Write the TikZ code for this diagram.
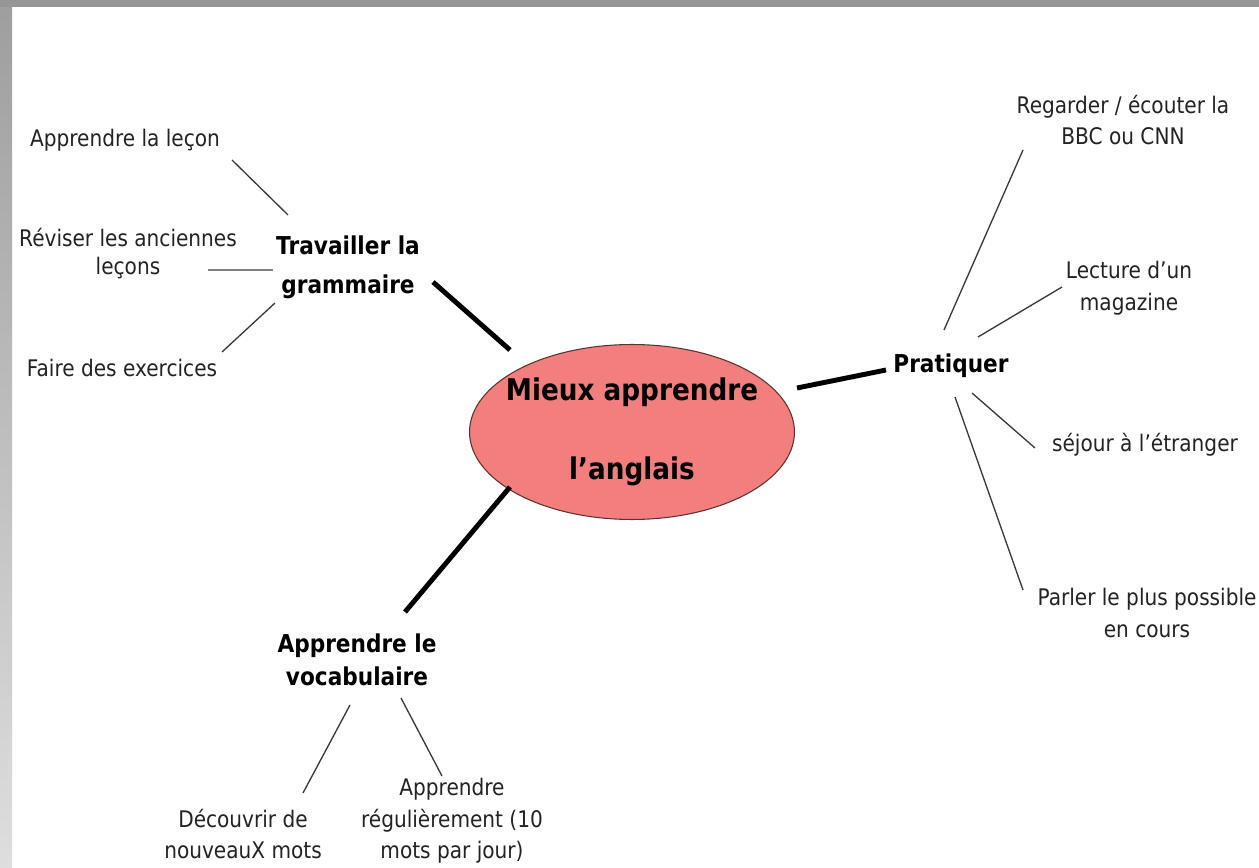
\documentclass[tikz,border=0pt]{standalone}
\usepackage{fontspec}
\setmainfont{DejaVu Sans}[FakeStretch=0.88]
\usetikzlibrary{shapes.geometric}
\definecolor{coral}{RGB}{243,126,126}
\definecolor{coralline}{RGB}{90,50,50}
\definecolor{leafgray}{RGB}{35,35,35}
\definecolor{bartop}{RGB}{158,158,158}
\definecolor{barbottom}{RGB}{222,222,222}
\def\twigfrom#1#2{([shift={#2}]#1.center)}

\begin{document}
\begin{tikzpicture}[x=0.02cm, y=-0.02cm,
	leaf/.style={align=center, inner sep=0pt, text=leafgray, font=\fontsize{13}{18}\selectfont},
	branch/.style={align=center, inner sep=0pt, font=\bfseries\fontsize{14}{22}\selectfont},
	twig/.style={line width=0.75pt, draw=leafgray!90},
	limb/.style={line width=2.8pt}]
	\useasboundingbox (0,0) rectangle (1259,868);
	\fill[white] (0,0) rectangle (1259,868);
	\shade[top color=bartop, bottom color=barbottom] (0,0) rectangle (12,868);
	\fill[bartop!95!black] (0,0) rectangle (1259,7);

	\node[ellipse, draw=coralline, fill=coral, line width=0.6pt, inner sep=0pt,
		minimum width=6.5cm, minimum height=3.5cm] (hub) at (632,432) {};
	\node[align=center, inner sep=0pt, font=\bfseries\fontsize{17}{20}\selectfont] (hubtext) at (hub) {Mieux apprendre\\[25pt]l’anglais};

	\node[branch] (gram) at (348,267) {Travailler la\\grammaire};
	\node[branch] (prat) at (951,366) {Pratiquer};
	\node[branch, font=\bfseries\fontsize{14}{19}\selectfont] (vocab) at (357,660) {Apprendre le\\vocabulaire};

	\node[leaf] (lecon) at (125,140) {Apprendre la leçon};
	\node[leaf, font=\fontsize{13}{16}\selectfont] (reviser) at (128,254) {Réviser les anciennes\\leçons};
	\node[leaf] (exos) at (122,368) {Faire des exercices};

	\node[leaf] (bbc) at (1123,120) {Regarder / écouter la\\BBC ou CNN};
	\node[leaf] (mag) at (1129,288) {Lecture d’un\\magazine};
	\node[leaf] (sejour) at (1145,445) {séjour à l’étranger};
	\node[leaf] (parler) at (1147,613) {Parler le plus possible\\en cours};

	\node[leaf] (decouvrir) at (243,834) {Découvrir de\\nouveauX mots};
	\node[leaf] (regul) at (452,821) {Apprendre\\régulièrement (10\\mots par jour)};

	\draw[limb] \twigfrom{gram}{(85,15)} -- \twigfrom{hub}{(-122,-82)};
	\draw[limb] \twigfrom{hub}{(165,-44)} -- \twigfrom{prat}{(-65,4)};
	\draw[limb] \twigfrom{hub}{(-122,55)} -- \twigfrom{vocab}{(48,-48)};

	\draw[twig] \twigfrom{lecon}{(107,20)} -- \twigfrom{gram}{(-60,-52)};
	\draw[twig, line width=1.7pt, draw=gray] \twigfrom{reviser}{(80,16)} -- \twigfrom{gram}{(-75,3)};
	\draw[twig] \twigfrom{exos}{(100,-16)} -- \twigfrom{gram}{(-73,36)};

	\draw[twig] \twigfrom{prat}{(-7,-36)} -- \twigfrom{bbc}{(-100,30)};
	\draw[twig] \twigfrom{prat}{(27,-29)} -- \twigfrom{mag}{(-67,-1)};
	\draw[twig] \twigfrom{prat}{(21,27)} -- \twigfrom{sejour}{(-110,3)};
	\draw[twig] \twigfrom{prat}{(4,31)} -- \twigfrom{parler}{(-124,-23)};

	\draw[twig] \twigfrom{vocab}{(-7,45)} -- \twigfrom{decouvrir}{(60,-41)};
	\draw[twig] \twigfrom{vocab}{(44,38)} -- \twigfrom{regul}{(-10,-45)};
\end{tikzpicture}
\end{document}
